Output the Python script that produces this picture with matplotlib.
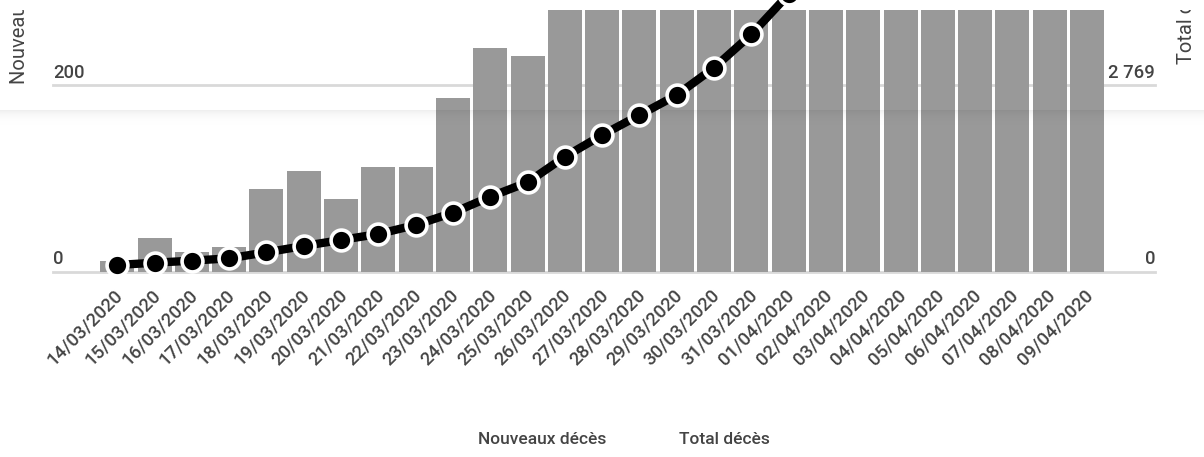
import numpy as np
import matplotlib
matplotlib.use("Agg")
import matplotlib.pyplot as plt
import matplotlib.transforms as mtransforms
from matplotlib.transforms import Bbox, TransformedBbox
from matplotlib import font_manager

# ---------------- data ----------------
dates = ["14/03/2020", "15/03/2020", "16/03/2020", "17/03/2020", "18/03/2020",
         "19/03/2020", "20/03/2020", "21/03/2020", "22/03/2020", "23/03/2020",
         "24/03/2020", "25/03/2020", "26/03/2020", "27/03/2020", "28/03/2020",
         "29/03/2020", "30/03/2020", "31/03/2020", "01/04/2020", "02/04/2020",
         "03/04/2020", "04/04/2020", "05/04/2020", "06/04/2020", "07/04/2020",
         "08/04/2020", "09/04/2020"]
nouveaux_deces = [12, 36, 21, 27, 89, 108, 78, 112, 112, 186, 240, 231, 365, 299,
                  319, 292, 418, 499, 509, 471, 588, 441, 357, 605, 597, 541, 412]
total_deces = [104, 138, 168, 203, 292, 386, 475, 564, 697, 879, 1117, 1330, 1710,
               2032, 2328, 2625, 3030, 3525, 4120, 4600, 5200, 5650, 6000, 6600,
               7200, 7750, 8150]
left_ticks = [0, 200]
right_ticks = [0, 2769]
right_tick_labels = ["0", "2 769"]
series_names = ["Nouveaux décès", "Total décès"]

# ---------------- layout ----------------
W, H = 1204, 457
plt.rcParams['font.family'] = ['Roboto', 'DejaVu Sans']
fig = plt.figure(figsize=(W / 100, H / 100), dpi=100)
fig.patch.set_facecolor('white')

# pick a medium weight if available
weights = {f.weight for f in font_manager.fontManager.ttflist if f.name == 'Roboto'}
med = 500 if any(w in (500, 'medium') for w in weights) else 'normal'

def fx(px):
    return px / W

def fy(py):
    return 1 - py / H

top_px, base_px, grid_px = 10, 272, 85.3
left_px, right_px = 53, 1155
first_c, step = 117.3, 37.3

ax = fig.add_axes([fx(left_px), fy(base_px), fx(right_px) - fx(left_px), fy(top_px) - fy(base_px)])
px_per_unit = (base_px - grid_px) / left_ticks[1]
ymax_left = (base_px - top_px) / px_per_unit
ax.set_ylim(0, ymax_left)
ax.set_xlim((left_px - first_c) / step, (right_px - first_c) / step)
for s in ax.spines.values():
    s.set_visible(False)
ax.set_xticks([])
ax.set_yticks([])
ax.patch.set_visible(False)

x = np.arange(len(dates))
grid_color = '#d9d9d9'
for t in left_ticks:
    ax.axhline(t, color=grid_color, lw=2.0, zorder=0, clip_on=False)

ax.bar(x, nouveaux_deces, width=34 / step, color='#999999', zorder=2)

ax2 = ax.twinx()
ax2.set_ylim(0, ymax_left * right_ticks[1] / left_ticks[1])
for s in ax2.spines.values():
    s.set_visible(False)
ax2.set_yticks([])
ax2.plot(x, total_deces, color='black', lw=6, marker='o', markersize=15,
         markerfacecolor='black', markeredgecolor='white', markeredgewidth=2.6,
         solid_capstyle='round', clip_on=False, zorder=3)

tick_color = '#444444'
fs = 13.3
# left / right tick labels
ytr_l = mtransforms.offset_copy(ax.get_yaxis_transform(), fig=fig, x=0, y=3.5, units='dots')
for t in left_ticks:
    ax.text(0, t, str(t), transform=ytr_l, ha='left', va='bottom',
            fontsize=fs, color=tick_color, fontweight=med)
for t, lab in zip(left_ticks, right_tick_labels):
    ax.text(1, t, lab, transform=ytr_l, ha='right', va='bottom',
            fontsize=fs, color=tick_color, fontweight=med)

# date labels
date_tr = mtransforms.offset_copy(ax.get_xaxis_transform(), fig=fig, x=3,
                                  y=-(292.5 - base_px), units='dots')
for xi, d in zip(x, dates):
    ax.text(xi, 0, d, transform=date_tr, rotation=45, rotation_mode='anchor',
            ha='right', va='center', fontsize=fs, color=tick_color, fontweight=med)

# axis titles (cropped at top like the reference)
clip = TransformedBbox(Bbox([[0, 0], [1, fy(top_px)]]), fig.transFigure)
t1 = fig.text(fx(20), fy(84), series_names[0], rotation=90, ha='center', va='bottom',
              fontsize=14.5, color=tick_color)
t2 = fig.text(fx(1187), fy(64), series_names[1], rotation=90, ha='center', va='bottom',
              fontsize=14.5, color=tick_color)
for t in (t1, t2):
    t.set_clip_box(clip)
    t.set_clip_on(True)

# legend (text only)
fig.text(fx(478), fy(440), series_names[0], ha='left', va='center', fontsize=12.5,
         color=tick_color, fontweight=med)
fig.text(fx(679), fy(440), series_names[1], ha='left', va='center', fontsize=12.5,
         color=tick_color, fontweight=med)

# soft shadow band across the chart
sh_top, sh_bot = 110, 132
sax = fig.add_axes([0, fy(sh_bot), 1, fy(sh_top) - fy(sh_bot)], zorder=10)
sax.set_axis_off()
n = 60
yy = np.linspace(0, sh_bot - sh_top, n)
alpha = 0.085 * np.exp(-yy / 5.0)
grad = np.zeros((n, 2, 4))
grad[..., 3] = alpha[:, None]
sax.imshow(grad, aspect='auto', extent=[0, 1, 0, 1], interpolation='bilinear')
sax.set_xlim(0, 1)
sax.set_ylim(0, 1)

fig.savefig('out.png', dpi=100)
